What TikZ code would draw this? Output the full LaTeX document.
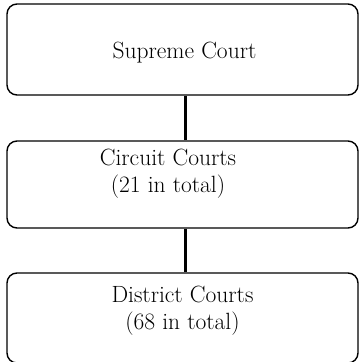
\documentclass[tikz,border=0pt]{standalone}
\begin{document}
\begin{tikzpicture}[x=1pt,y=-1pt,
  box/.style={draw, line width=1.4pt, rounded corners=10pt, minimum width=351pt, inner sep=0pt},
  lbl/.style={anchor=base, align=center, inner sep=0pt, font=\fontsize{23.5}{27}\selectfont},
  link/.style={line width=3pt}]
\useasboundingbox (0,0) rectangle (359,362);
\node[box, minimum height=91pt] (s) at (182.5,49.5) {};
\node[box, minimum height=87pt] (c) at (182.5,184.5) {};
\node[box, minimum height=90pt] (d) at (182.5,318) {};
\node[lbl] (ts) at (184.5,58) {Supreme Court};
\node[lbl] (tc) at (168,192) {Circuit Courts\\(21 in total)};
\node[lbl] (td) at (182.5,329) {District Courts\\(68 in total)};
\draw[link] ([xshift=2.5pt]s.south) -- ([xshift=2.5pt]c.north);
\draw[link] ([xshift=2.5pt]c.south) -- ([xshift=2.5pt]d.north);
\end{tikzpicture}
\end{document}
